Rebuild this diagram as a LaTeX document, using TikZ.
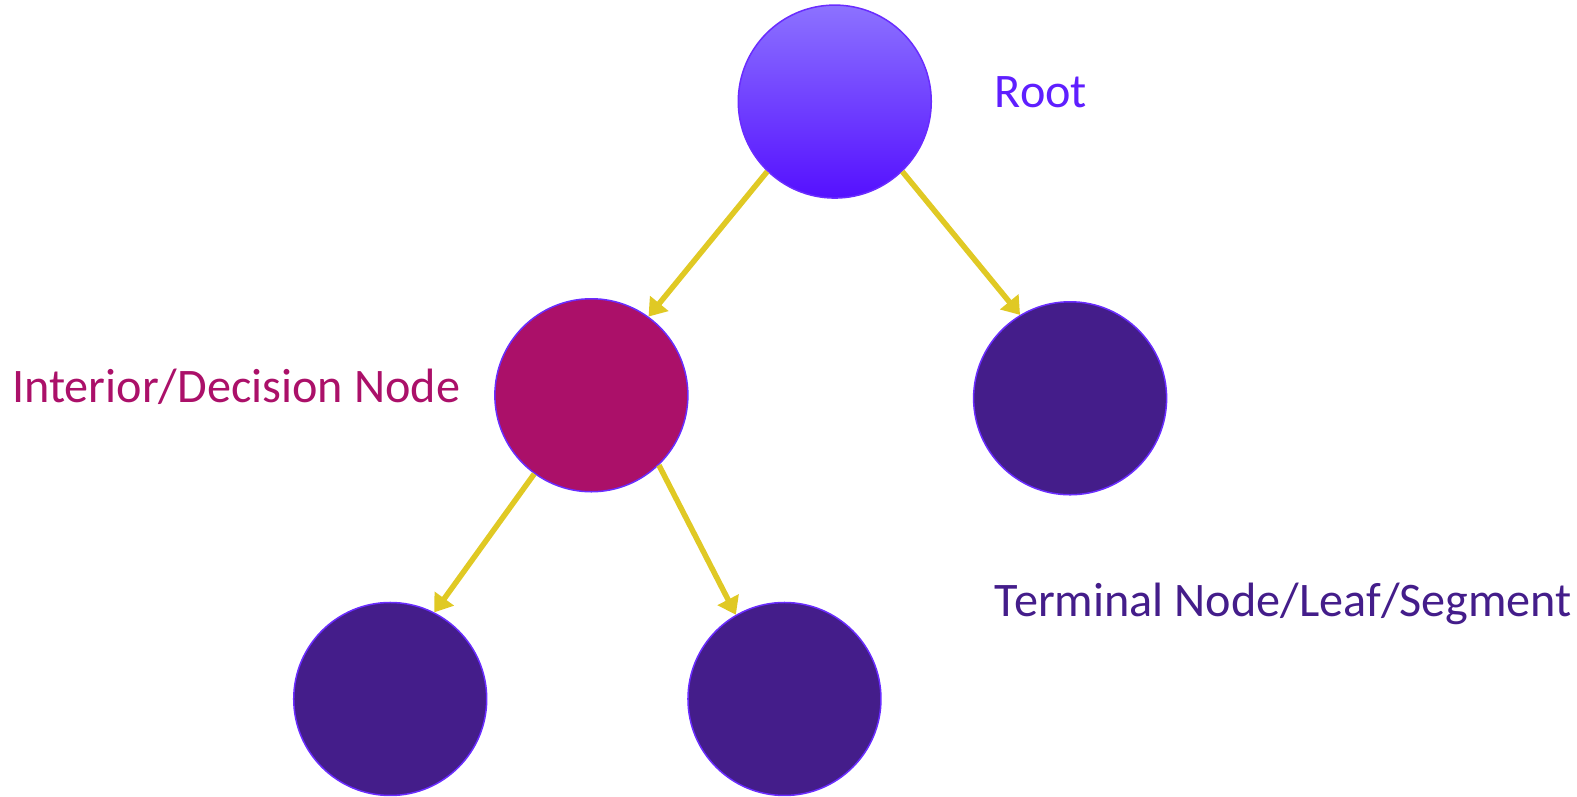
\documentclass[tikz,border=0pt]{standalone}
\usepackage{fontspec}
\setmainfont{Carlito}
\usepackage{xcolor}
\usepackage{tikz}
\usetikzlibrary{arrows.meta}
\definecolor{rim}{HTML}{6A2CFF}
\definecolor{roottop}{HTML}{8C72FF}
\definecolor{rootbot}{HTML}{5510FF}
\definecolor{rootlab}{HTML}{5F1FFF}
\definecolor{magenta}{HTML}{AB1069}
\definecolor{leafc}{HTML}{441D8A}
\definecolor{branch}{HTML}{E0C924}
\tikzset{
  tnode/.style={circle, draw=rim, line width=1.5pt, minimum size=193pt, inner sep=0pt},
  root/.style={tnode, top color=roottop, bottom color=rootbot},
  inner/.style={tnode, fill=magenta},
  leaf/.style={tnode, fill=leafc},
  edge/.style={draw=branch, line width=5.5pt, -{Triangle[length=17pt,width=23pt]}},
  lab/.style={font=\fontsize{48.2}{58}\selectfont, inner sep=0pt, anchor=west},
}
\begin{document}
\begin{tikzpicture}[x=1.0057pt, y=-1.0057pt]
  \useasboundingbox (0,0) rectangle (1568,792);
  % tree nodes
  \node[root]  (r)  at (830,101) {};
  \node[inner] (d)  at (588,393) {};
  \node[leaf]  (l1) at (1064,396) {};
  \node[leaf]  (l2) at (388,695) {};
  \node[leaf]  (l3) at (780,695) {};
  % branches
  \draw[edge] (r.226) -- (d.54);
  \draw[edge] (r.-46) -- (l1.121);
  \draw[edge] (d.234) -- (l2.63);
  \draw[edge] (d.-46) -- (l3.120);
  % labels
  \node[lab, text=rootlab] (rootlab) at (989,92) {Root};
  \node[lab, text=magenta] (intlab)  at (12,385) {Interior/Decision Node};
  \node[lab, text=leafc]   (termlab) at (989,600) {Terminal Node/Leaf/Segment};
\end{tikzpicture}
\end{document}
